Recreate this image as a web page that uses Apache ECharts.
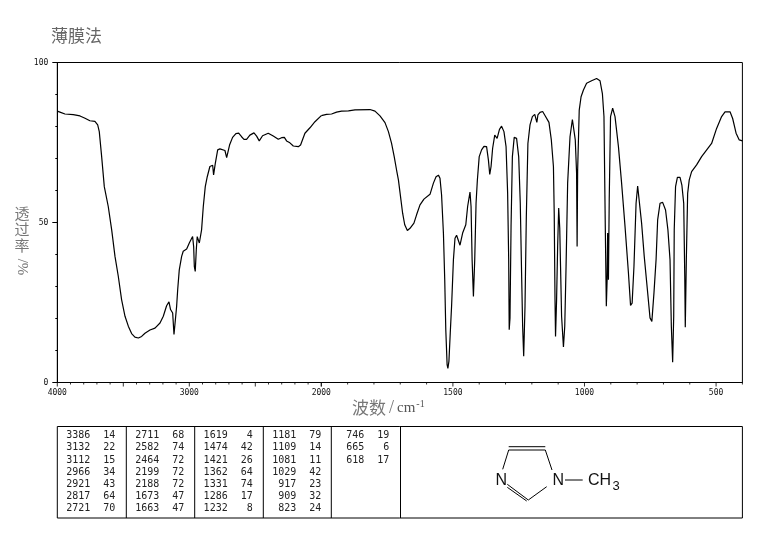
<!DOCTYPE html>
<html><head><meta charset="utf-8">
<style>html,body{margin:0;padding:0;background:#fff}#c{width:765px;height:539px}</style>
<script src="https://cdn.jsdelivr.net/npm/echarts@6/dist/echarts.min.js"></script>
</head><body><div id="c"></div>
<script>
const highWavenumbers = [4000,3980,3942,3879,3828,3790,3753,3715,3694,3682,3664,3644,3614,3588,3563,3538,3513,3487,3462,3437,3412,3386,3361,3336,3298,3260,3222,3197,3172,3154,3142,3126,3116,3109,3096,3088,3076,3058,3046,3020,3000,2975,2967,2962,2955,2947,2940,2932,2924,2917,2907,2894,2879,2864,2844,2823,2816,2803,2785,2768,2755,2730,2717,2707,2695,2672,2647,2626,2604,2586,2566,2541,2510,2490,2470,2460,2445,2402,2364,2326,2301,2280,2263,2238,2212,2174,2157,2124,2086,2048,2000];
const highTransmittance = [84.8,84.5,83.9,83.7,83.3,82.6,81.8,81.6,80.5,78.4,70.6,61.2,55.0,47.7,39.4,33.2,25.9,20.7,17.6,15.3,14.2,13.9,14.4,15.4,16.4,17.0,18.6,20.7,24.0,25.2,22.8,21.7,15.0,15.0,23.8,29.0,35.2,39.4,41.0,41.7,43.6,45.6,42.5,36.3,34.7,41.5,45.6,46.2,43.6,43.3,47.7,55.0,61.2,64.3,67.5,67.9,64.9,68.5,72.7,73.0,72.5,72.5,70.3,70.0,74.2,76.6,77.8,77.9,76.8,76.0,76.0,77.3,78.0,77.0,75.5,75.6,77.1,77.9,77.0,76.0,76.5,76.6,75.5,74.9,73.9,73.7,74.2,77.9,79.6,81.5,83.4];
const lowWavenumbers = [2000,1980,1961,1942,1923,1897,1872,1815,1796,1777,1758,1745,1733,1723,1714,1707,1701,1691,1683,1673,1663,1648,1638,1625,1610,1587,1574,1564,1555,1549,1543,1536,1531,1527,1522,1519,1515,1510,1505,1498,1492,1486,1481,1473,1469,1463,1451,1444,1435,1431,1427,1422,1417,1412,1407,1400,1391,1382,1372,1365,1360,1355,1349,1341,1332,1323,1315,1306,1298,1292,1288,1286,1283,1279,1274,1267,1258,1250,1244,1239,1235,1231,1226,1221,1215,1207,1198,1189,1183,1181,1177,1169,1159,1149,1135,1126,1118,1115,1112,1110,1106,1102,1098,1094,1091,1087,1080,1075,1070,1064,1055,1046,1041,1035,1030,1028,1026,1020,1013,1004,992,973,954,941,932,926,921,917,914,912,909,906,901,893,884,871,859,846,833,825,819,812,804,798,792,783,773,761,751,744,736,728,722,713,703,692,683,675,670,665,661,659,654,647,637,630,623,619,617,613,608,602,593,574,555,517,498,479,466,447,437,424,412,400];
const lowTransmittance = [83.4,83.8,83.9,84.5,84.8,84.9,85.2,85.3,84.8,83.3,81.2,78.4,74.7,70.6,66.4,63.3,59.4,52.9,49.3,47.5,48.2,49.8,52.4,55.5,57.3,58.8,62.3,64.3,64.8,63.8,58.6,46.7,32.1,16.5,5.6,4.4,6.7,15.5,23.8,38.4,45.1,46.0,45.6,42.9,43.2,46.7,49.3,55.0,59.5,55.0,38.4,26.9,38.4,56.0,63.3,70.6,72.7,73.8,73.7,69.5,65.0,67.5,73.2,77.3,76.3,79.1,80.1,78.4,73.7,59.1,38.4,16.5,20.2,48.8,70.6,76.6,76.3,70.6,56.0,34.2,17.6,8.2,23.8,51.9,74.7,80.5,83.1,83.8,83.6,81.3,83.6,84.4,84.7,83.3,81.3,75.8,67.5,52.9,25.9,14.4,25.9,42.5,54.5,48.2,36.3,20.7,11.1,17.6,36.3,62.3,76.8,82.2,82.4,75.8,65.4,42.5,66.4,85.1,89.3,91.4,93.5,94.3,95.0,94.3,90.3,83.1,48.8,23.8,32.1,46.7,32.1,57.1,83.1,85.7,83.1,73.7,62.3,48.8,34.2,24.1,24.8,36.3,56.0,61.4,61.4,49.8,39.4,29.0,20.2,19.1,28.0,38.4,50.8,56.0,56.3,53.9,47.7,38.4,17.6,6.3,20.7,47.7,61.2,64.1,64.1,61.7,56.0,33.2,17.3,38.4,59.1,63.3,65.9,68.0,70.6,74.7,79.4,83.1,84.6,84.6,82.5,77.9,75.8,75.5];
const highLabelTicks = [4000,3000];
const highLongTicks = [4000,3500,3000,2500,2000];
const highShortTicks = [3900,3800,3700,3600,3400,3300,3200,3100,2900,2800,2700,2600,2400,2300,2200,2100];
const lowLabelTicks = [2000,1500,1000,500];
const lowLongTicks = [2000,1500,1000,500];
const lowShortTicks = [1900,1800,1700,1600,1400,1300,1200,1100,900,800,700,600,400];
const yLabelTicks = [0,50,100];
const peakColumns = [
  [[3386,14],[3132,22],[3112,15],[2966,34],[2921,43],[2817,64],[2721,70]],
  [[2711,68],[2582,74],[2464,72],[2199,72],[2188,72],[1673,47],[1663,47]],
  [[1619,4],[1474,42],[1421,26],[1362,64],[1331,74],[1286,17],[1232,8]],
  [[1181,79],[1109,14],[1081,11],[1029,42],[917,23],[909,32],[823,24]],
  [[746,19],[665,6],[618,17]]
];
const titleText = '薄膜法';
const xNameCjk = '波数';
const xNameUnit = 'cm';
const xNameSup = '-1';

const AXIS_FONT = '"DejaVu Sans Mono"';
const zip = (a, b) => a.map((v, i) => [v, b[i]]);
const TOP = 62.5, H = 320, L = 57.3, MID = 321.3, R = 742.4;
const grid = [
  {left: L, top: TOP, width: R - L, height: H, show: true, backgroundColor: '#fff', borderColor: '#000', borderWidth: 1, z: 0},
  {left: L, top: TOP, width: MID - L, height: H},
  {left: MID, top: TOP, width: R - MID, height: H}
];
const blackLine = {show: true, onZero: false, lineStyle: {color: '#000', width: 1}};
const labelStyle = {fontFamily: AXIS_FONT, fontSize: 8, color: '#111', margin: 6};
const wnAxis = (gridIndex, min, max, labelTicks) => ({gridIndex, type: 'value', min, max, inverse: true, position: 'bottom', axisLine: blackLine,
  axisTick: {show: false},
  axisLabel: Object.assign({show: true, customValues: labelTicks, hideOverlap: false, showMinLabel: true, showMaxLabel: true, formatter: v => String(v)}, labelStyle),
  splitLine: {show: false}});
const xAxis = [
  {gridIndex: 0, type: 'value', min: 0, max: 1, show: false},
  wnAxis(1, 2000, 4000, highLabelTicks),
  wnAxis(2, 400, 2000, lowLabelTicks)
];
const hiddenY = gridIndex => ({gridIndex, type: 'value', min: 0, max: 100, show: false});
const yAxis = [
  hiddenY(0),
  {gridIndex: 1, type: 'value', min: 0, max: 100, interval: 50, axisLine: blackLine,
   axisTick: {show: true, length: 5, lineStyle: {color: '#000', width: 1}},
   minorTick: {show: true, splitNumber: 5, length: 2, lineStyle: {color: '#000', width: 1}},
   axisLabel: Object.assign({customValues: yLabelTicks}, labelStyle, {margin: 9}), splitLine: {show: false}},
  hiddenY(2)
];
const lineStyle = {color: '#000', width: 1.2};
const tickSeries = (idx, values, len) => ({type: 'scatter', xAxisIndex: idx, yAxisIndex: idx, silent: true, clip: false,
  data: values.map(v => [v, 0]), symbol: 'rect', symbolSize: [1, len], symbolOffset: [0, len / 2], itemStyle: {color: '#000'}, z: 4});
const series = [
  {type: 'line', xAxisIndex: 1, yAxisIndex: 1, data: zip(highWavenumbers, highTransmittance), showSymbol: false, silent: true, lineStyle, z: 5},
  {type: 'line', xAxisIndex: 2, yAxisIndex: 2, data: zip(lowWavenumbers, lowTransmittance), showSymbol: false, silent: true, lineStyle, z: 5},
  tickSeries(1, highLongTicks, 4), tickSeries(1, highShortTicks, 2),
  tickSeries(2, lowLongTicks, 4), tickSeries(2, lowShortTicks, 2)
];

// peak table and labels
const TBL_T = 426.5, TBL_B = 518, TBL_L = 57.3, TBL_R = 742.4;
const dividers = [126.3, 194.7, 263.3, 331.3, 400.5];
const colLeft = [57.3, 126.3, 194.7, 263.3, 331.3];
const line = (x1, y1, x2, y2, w) => ({type: 'line', silent: true, shape: {x1, y1, x2, y2}, style: {stroke: '#000', lineWidth: w || 1}});
const graphic = [];
graphic.push({type: 'rect', silent: true, shape: {x: TBL_L, y: TBL_T, width: TBL_R - TBL_L, height: TBL_B - TBL_T}, style: {fill: '#fff', stroke: '#000', lineWidth: 1}});
dividers.forEach(x => graphic.push(line(x, TBL_T, x, TBL_B)));
peakColumns.forEach((col, c) => col.forEach((row, r) => {
  const y = 435.7 + r * 12.2;
  const tStyle = {fontFamily: AXIS_FONT, fontSize: 10, fill: '#222', textAlign: 'right', textVerticalAlign: 'middle'};
  graphic.push({type: 'text', silent: true, x: colLeft[c] + 33, y, style: Object.assign({text: String(row[0])}, tStyle)});
  graphic.push({type: 'text', silent: true, x: colLeft[c] + 58, y, style: Object.assign({text: String(row[1])}, tStyle)});
}));
// structure drawing
[[508.7,446.7,545.3,446.7],[508.7,450,545.3,450],[508.7,450,502.7,469.3],[545.3,450,552,470],
 [507.3,484.3,528.3,500],[507.3,487.3,526.7,501],[528.3,500,546.7,486.7],[565,480,582.7,480]]
 .forEach(p => graphic.push(line(p[0], p[1], p[2], p[3])));
const molFont = {fontFamily: '"Liberation Sans"', fontSize: 16, fill: '#111', textVerticalAlign: 'middle'};
graphic.push({type: 'text', silent: true, x: 495.5, y: 481, style: Object.assign({text: 'N'}, molFont)});
graphic.push({type: 'text', silent: true, x: 552.5, y: 481, style: Object.assign({text: 'N'}, molFont)});
graphic.push({type: 'text', silent: true, x: 588, y: 481, style: Object.assign({text: 'CH'}, molFont)});
graphic.push({type: 'text', silent: true, x: 612.5, y: 486, style: Object.assign({text: '3'}, molFont, {fontSize: 13})});
// titles
const cjk = '"Noto Sans CJK SC"';
graphic.push({type: 'text', silent: true, x: 51, y: 36, style: {text: titleText, fontFamily: cjk, fontSize: 17, fill: '#666', textVerticalAlign: 'middle'}});
graphic.push({type: 'text', silent: true, x: 22, y: 229, style: {text: '透\n过\n率', fontFamily: cjk, fontSize: 15, lineHeight: 16, fill: '#777', textAlign: 'center', textVerticalAlign: 'middle'}});
graphic.push({type: 'text', silent: true, x: 22, y: 267, rotation: -Math.PI / 2, style: {text: '/%', fontFamily: '"Liberation Serif"', fontSize: 15, fill: '#777', textAlign: 'center', textVerticalAlign: 'middle'}});
graphic.push({type: 'text', silent: true, x: 352, y: 408, style: {text: '{a|' + xNameCjk + '}{c|/}{b|' + xNameUnit + '}{s|' + xNameSup + '}', rich: {
  a: {fontFamily: cjk, fontSize: 17, fill: '#777'},
  c: {fontFamily: '"Liberation Serif"', fontSize: 18, fill: '#777', padding: [0, 3, 0, 3]},
  b: {fontFamily: '"Liberation Serif"', fontSize: 15, fill: '#555'},
  s: {fontFamily: '"Liberation Serif"', fontSize: 10, fill: '#555', verticalAlign: 'top', padding: [0, 0, 8, 1]}
}, textVerticalAlign: 'middle'}});

const chart = echarts.init(document.getElementById('c'), null, {renderer: 'canvas'});
chart.setOption({animation: false, backgroundColor: '#fff', grid, xAxis, yAxis, series, graphic});
</script></body></html>
